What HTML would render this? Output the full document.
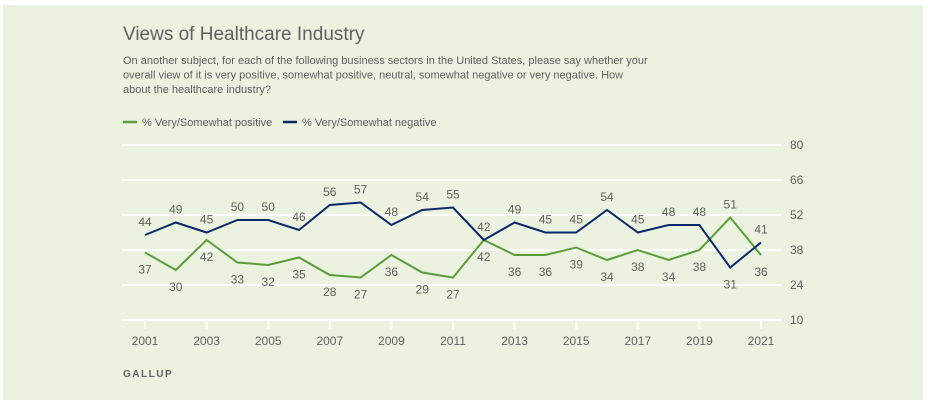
<!DOCTYPE html>
<html><head><meta charset="utf-8"><style>
body{margin:0;width:928px;height:407px;background:#fff;font-family:"Liberation Sans",sans-serif;overflow:hidden}
</style></head><body>
<svg width="928" height="407" xmlns="http://www.w3.org/2000/svg" font-family="Liberation Sans, sans-serif">
<rect x="3" y="5" width="920" height="395" fill="#ebf2df"/>
<text x="123" y="40" font-size="19" fill="#616161">Views of Healthcare Industry</text>
<g font-size="11" fill="#616161">
<text x="123" y="64">On another subject, for each of the following business sectors in the United States, please say whether your</text>
<text x="123" y="78.5">overall view of it is very positive, somewhat positive, neutral, somewhat negative or very negative. How</text>
<text x="123" y="93">about the healthcare industry?</text>
<line x1="123" y1="122" x2="137" y2="122" stroke="#5a9e3a" stroke-width="2.5"/>
<text x="142" y="126">% Very/Somewhat positive</text>
<line x1="283" y1="122" x2="297" y2="122" stroke="#0b2a6b" stroke-width="2.5"/>
<text x="302" y="126">% Very/Somewhat negative</text>
</g>
<g stroke="#fff" stroke-width="2">
<line x1="122" y1="145" x2="781" y2="145"/><line x1="122" y1="180" x2="781" y2="180"/>
<line x1="122" y1="215" x2="781" y2="215"/><line x1="122" y1="250" x2="781" y2="250"/>
<line x1="122" y1="285" x2="781" y2="285"/><line x1="122" y1="320" x2="781" y2="320"/>
<line x1="145" y1="320" x2="145" y2="329"/><line x1="206.6" y1="320" x2="206.6" y2="329"/>
<line x1="268.2" y1="320" x2="268.2" y2="329"/><line x1="329.8" y1="320" x2="329.8" y2="329"/>
<line x1="391.4" y1="320" x2="391.4" y2="329"/><line x1="453" y1="320" x2="453" y2="329"/>
<line x1="514.6" y1="320" x2="514.6" y2="329"/><line x1="576.2" y1="320" x2="576.2" y2="329"/>
<line x1="637.8" y1="320" x2="637.8" y2="329"/><line x1="699.4" y1="320" x2="699.4" y2="329"/>
<line x1="761" y1="320" x2="761" y2="329"/>
</g>
<g font-size="12" fill="#616161">
<text x="790" y="149">80</text><text x="790" y="184">66</text><text x="790" y="219">52</text>
<text x="790" y="254">38</text><text x="790" y="289">24</text><text x="790" y="324">10</text>
</g>
<g font-size="12" fill="#616161" text-anchor="middle">
<text x="145" y="345">2001</text><text x="206.6" y="345">2003</text><text x="268.2" y="345">2005</text>
<text x="329.8" y="345">2007</text><text x="391.4" y="345">2009</text><text x="453" y="345">2011</text>
<text x="514.6" y="345">2013</text><text x="576.2" y="345">2015</text><text x="637.8" y="345">2017</text>
<text x="699.4" y="345">2019</text><text x="761" y="345">2021</text>
</g>
<text x="123" y="377" font-size="10" font-weight="bold" fill="#616161" letter-spacing="1.5">GALLUP</text>
<polyline fill="none" stroke="#5a9e3a" stroke-width="2" points="145,252.5 175.8,270 206.6,240 237.4,262.5 268.2,265 299,257.5 329.8,275 360.6,277.5 391.4,255 422.2,272.5 453,277.5 483.8,240 514.6,255 545.4,255 576.2,247.5 607,260 637.8,250 668.6,260 699.4,250 730.2,217.5 761,255"/>
<polyline fill="none" stroke="#0b2a6b" stroke-width="2" points="145,235 175.8,222.5 206.6,232.5 237.4,220 268.2,220 299,230 329.8,205 360.6,202.5 391.4,225 422.2,210 453,207.5 483.8,240 514.6,222.5 545.4,232.5 576.2,232.5 607,210 637.8,232.5 668.6,225 699.4,225 730.2,267.5 761,242.5"/>
<g font-size="12" fill="#616161" text-anchor="middle">
<text x="145" y="226">44</text><text x="175.8" y="213.5">49</text><text x="206.6" y="223.5">45</text>
<text x="237.4" y="211">50</text><text x="268.2" y="211">50</text><text x="299" y="221">46</text>
<text x="329.8" y="196">56</text><text x="360.6" y="193.5">57</text><text x="391.4" y="216">48</text>
<text x="422.2" y="201">54</text><text x="453" y="198.5">55</text><text x="483.8" y="231">42</text>
<text x="514.6" y="213.5">49</text><text x="545.4" y="223.5">45</text><text x="576.2" y="223.5">45</text>
<text x="607" y="201">54</text><text x="637.8" y="223.5">45</text><text x="668.6" y="216">48</text>
<text x="699.4" y="216">48</text><text x="730.2" y="288.5">31</text><text x="761" y="233.5">41</text>
<text x="145" y="273.5">37</text><text x="175.8" y="291">30</text><text x="206.6" y="261">42</text>
<text x="237.4" y="283.5">33</text><text x="268.2" y="286">32</text><text x="299" y="278.5">35</text>
<text x="329.8" y="296">28</text><text x="360.6" y="298.5">27</text><text x="391.4" y="276">36</text>
<text x="422.2" y="293.5">29</text><text x="453" y="298.5">27</text><text x="483.8" y="261">42</text>
<text x="514.6" y="276">36</text><text x="545.4" y="276">36</text><text x="576.2" y="268.5">39</text>
<text x="607" y="281">34</text><text x="637.8" y="271">38</text><text x="668.6" y="281">34</text>
<text x="699.4" y="271">38</text><text x="730.2" y="208.5">51</text><text x="761" y="276">36</text>
</g>
</svg>
</body></html>
